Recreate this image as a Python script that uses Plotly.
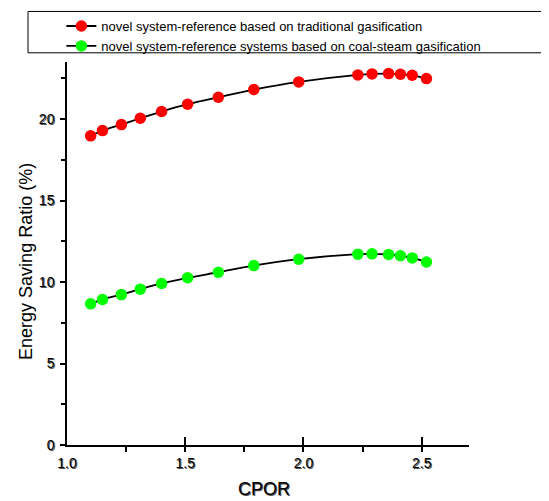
import plotly.graph_objects as go

# CPOR values (x) and Energy Saving Ratio (%) for the two comparisons
cpor = [1.10, 1.15, 1.23, 1.31, 1.40, 1.51, 1.64, 1.79, 1.98, 2.23, 2.29, 2.36, 2.41, 2.46, 2.52]
esr_traditional = [18.97, 19.29, 19.66, 20.05, 20.46, 20.91, 21.34, 21.81, 22.28, 22.71, 22.77, 22.79, 22.75, 22.69, 22.48]
esr_coal_steam = [8.66, 8.93, 9.23, 9.56, 9.91, 10.26, 10.60, 11.01, 11.40, 11.71, 11.73, 11.69, 11.61, 11.48, 11.23]

names = ["novel system-reference based on traditional gasification",
         "novel system-reference systems based on coal-steam gasification"]
x_ticks = [1.0, 1.5, 2.0, 2.5]
x_tick_labels = ["1.0", "1.5", "2.0", "2.5"]
y_ticks = [0, 5, 10, 15, 20]
x_title = "CPOR"
y_title = "Energy Saving Ratio (%)"

FONT = "Arial, 'Liberation Sans', sans-serif"
SHADOW = "1px 1px 0px #555"

fig = go.Figure()
for ys, col, nm in [(esr_traditional, "#ff0000", names[0]), (esr_coal_steam, "#00ff00", names[1])]:
    fig.add_trace(go.Scatter(
        x=cpor, y=ys, name=nm, mode="lines+markers",
        line=dict(color="black", width=1.8, shape="spline", smoothing=0.8),
        marker=dict(color=col, size=11.5, line=dict(width=0)),
        cliponaxis=False,
    ))

# page body has an 8px margin, so the figure is made 8px smaller and shifted
fig.update_layout(
    width=541, height=493,
    margin=dict(l=59, r=80, t=54, b=56, autoexpand=False),
    paper_bgcolor="white", plot_bgcolor="white",
    font=dict(family=FONT, color="black"),
    showlegend=True,
    legend=dict(
        x=-0.014, y=1.133, xanchor="left", yanchor="top",
        bgcolor="rgba(0,0,0,0)", borderwidth=0,
        font=dict(size=13, family=FONT, color="black"),
        itemwidth=30, tracegroupgap=0,
    ),
    shapes=[dict(type="rect", xref="paper", yref="paper",
                 x0=-0.097, x1=1.3, y0=1.024, y1=1.132,
                 line=dict(color="black", width=1), fillcolor="rgba(0,0,0,0)")],
    annotations=[
        dict(text=x_title, xref="paper", yref="paper", x=0.49, y=0, xanchor="center",
             yanchor="middle", yshift=-43.5, showarrow=False,
             font=dict(size=18, family=FONT, color="black", shadow=SHADOW)),
        dict(text=y_title, xref="paper", yref="paper", x=0, y=0.478, xanchor="center",
             yanchor="middle", xshift=-41, textangle=-90, showarrow=False,
             font=dict(size=18, family=FONT, color="black")),
    ],
)

fig.update_xaxes(
    range=[1.0, 2.7], showgrid=False, zeroline=False, automargin=False,
    showline=True, linecolor="black", linewidth=1.5,
    tickmode="array", tickvals=x_ticks, ticktext=x_tick_labels,
    ticks="inside", ticklen=8, tickwidth=1.5, tickcolor="black",
    minor=dict(ticks="outside", ticklen=5, tickwidth=1.5, tickcolor="black", dtick=0.25),
    ticklabelstandoff=4,
    tickfont=dict(size=14, family=FONT, color="black", shadow=SHADOW),
)
fig.update_yaxes(
    range=[0, 23.5], showgrid=False, zeroline=False, automargin=False,
    showline=True, linecolor="black", linewidth=1.5,
    tickmode="array", tickvals=y_ticks,
    ticks="outside", ticklen=5, tickwidth=1.5, tickcolor="black",
    minor=dict(ticks="outside", ticklen=4, tickwidth=1.5, tickcolor="black", dtick=2.5),
    ticklabelstandoff=3,
    tickfont=dict(size=14, family=FONT, color="black", shadow=SHADOW),
)

fig.write_html("out.html")
